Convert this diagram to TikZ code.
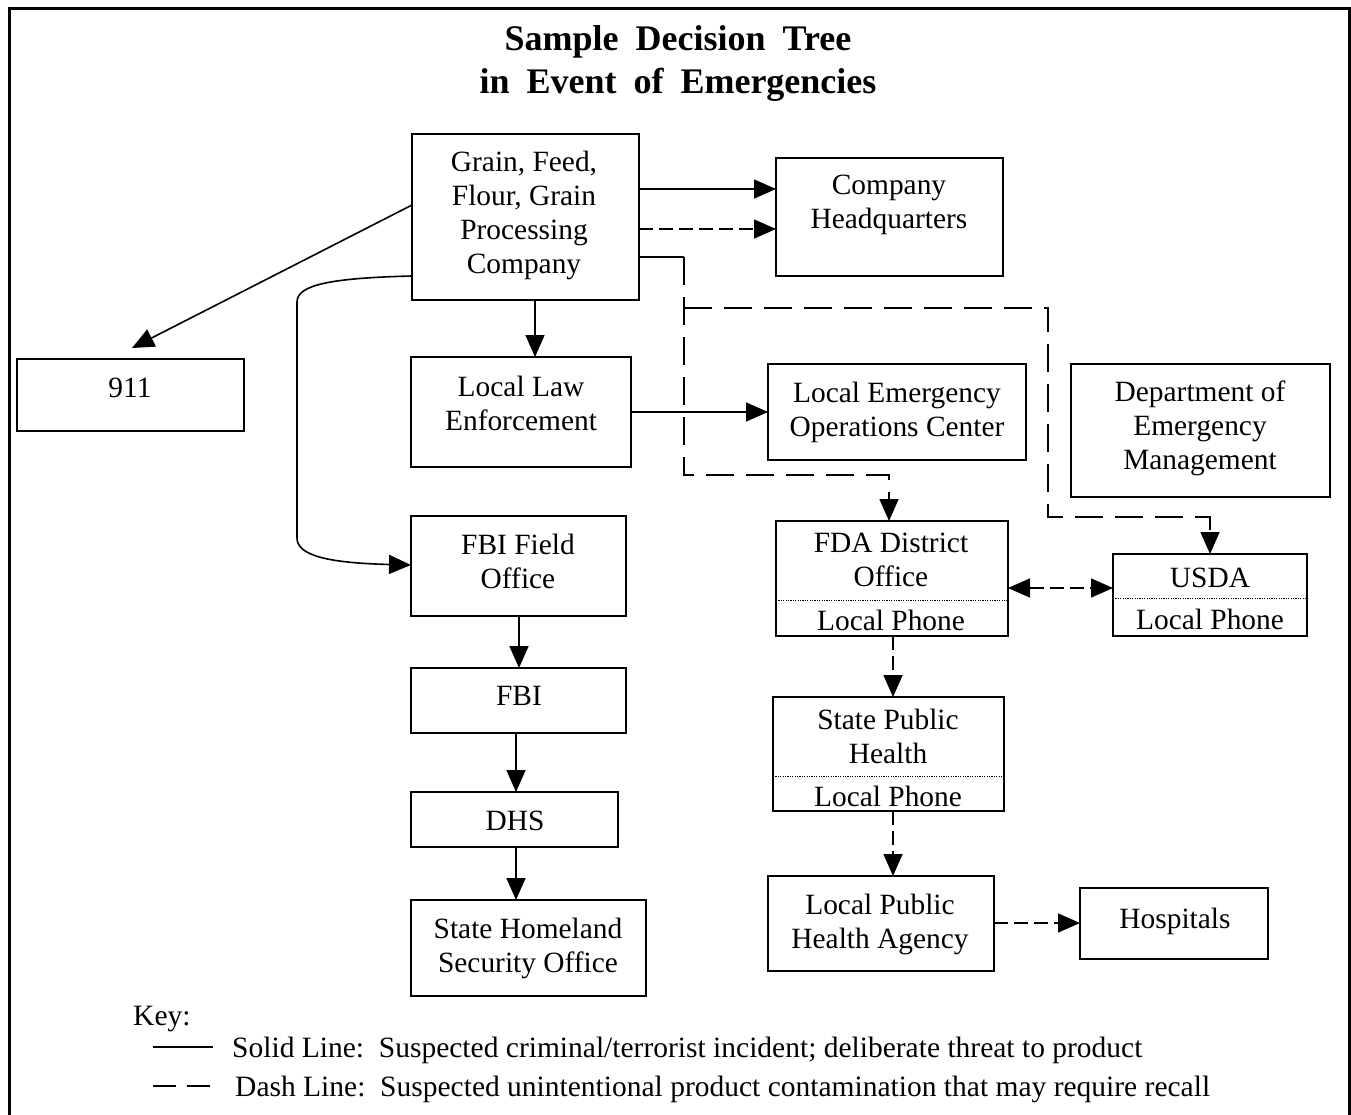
\documentclass[tikz,border=0pt]{standalone}
\usepackage{fontspec}
\setmainfont{Liberation Serif}
\usetikzlibrary{arrows.meta}
\newlength{\ttlspace}
\setlength{\ttlspace}{17pt}
\begin{document}
\begin{tikzpicture}[x=1pt,y=-1pt,
  box/.style={draw,line width=1.6pt,inner sep=0pt,outer sep=0pt,anchor=north west},
  txt/.style={font=\fontsize{29.4}{34}\selectfont,align=center,inner sep=0pt,
    execute at begin node=\strut,execute at end node=\strut},
  conn/.style={line width=1.6pt,-{Triangle[length=22pt,width=19pt]}},
  plain/.style={line width=1.6pt},
  dsh/.style={dash pattern=on 14pt off 6pt},
  bigdsh/.style={dash pattern=on 28pt off 12pt},
  sep/.style={line width=0.8pt,dash pattern=on 1.2pt off 1.2pt},
  ttl/.style={font=\fontsize{36}{43}\selectfont\bfseries,inner sep=0pt,anchor=base},
  keytxt/.style={font=\fontsize{29.5}{34}\selectfont,inner sep=0pt,anchor=base west}
]
\useasboundingbox (0,0) rectangle (1351,1114);
% frame
\draw[line width=3pt] (9.5,1130) -- (9.5,8) -- (1349.5,8) -- (1349.5,1130);

% title
\node[ttl] (t1) at (678,50) {Sample\hspace{\ttlspace}Decision\hspace{\ttlspace}Tree};
\node[ttl] (t2) at (678,93) {in\hspace{\ttlspace}Event\hspace{\ttlspace}of\hspace{\ttlspace}Emergencies};

% boxes
\node[box,minimum width=227pt,minimum height=166pt] (grain) at (412,134) {};
\node[box,minimum width=227pt,minimum height=118pt] (hq) at (776,158) {};
\node[box,minimum width=227pt,minimum height=72pt] (n911) at (17,359) {};
\node[box,minimum width=220pt,minimum height=110pt] (lle) at (411,357) {};
\node[box,minimum width=258pt,minimum height=96pt] (eoc) at (768,364) {};
\node[box,minimum width=259pt,minimum height=133pt] (dem) at (1071,364) {};
\node[box,minimum width=215pt,minimum height=100pt] (fbif) at (411,516) {};
\node[box,minimum width=232pt,minimum height=115pt] (fda) at (776,521) {};
\node[box,minimum width=194pt,minimum height=82pt] (usda) at (1113,554) {};
\node[box,minimum width=215pt,minimum height=65pt] (fbi) at (411,668) {};
\node[box,minimum width=231pt,minimum height=114pt] (sph) at (773,697) {};
\node[box,minimum width=207pt,minimum height=55pt] (dhs) at (411,792) {};
\node[box,minimum width=235pt,minimum height=96pt] (shs) at (411,900) {};
\node[box,minimum width=226pt,minimum height=95pt] (lph) at (768,876) {};
\node[box,minimum width=188pt,minimum height=71pt] (hosp) at (1080,888) {};

% separators
\draw[sep] (fda.west|-0,600) -- (fda.east|-0,600);
\draw[sep] (usda.west|-0,598) -- (usda.east|-0,598);
\draw[sep] (sph.west|-0,776) -- (sph.east|-0,776);

% texts
\node[txt] (tgrain) at (524,217) {Grain, Feed,\\Flour, Grain\\Processing\\Company};
\node[txt] (thq) at (889,207) {Company\\Headquarters};
\node[txt] (t911) at (130,391) {911};
\node[txt] (tlle) at (521,408) {Local Law\\Enforcement};
\node[txt] (teoc) at (897,414) {Local Emergency\\Operations Center};
\node[txt] (tdem) at (1200,430) {Department of\\Emergency\\Management};
\node[txt] (tfbif) at (518,566) {FBI Field\\Office};
\node[txt] (tfda) at (891,565) {FDA District\\Office};
\node[txt] (tfdap) at (891,624) {Local Phone};
\node[txt] (tusda) at (1210,581) {USDA};
\node[txt] (tusdap) at (1210,623) {Local Phone};
\node[txt] (tfbi) at (519,699) {FBI};
\node[txt] (tsph) at (888,741) {State Public\\Health};
\node[txt] (tsphp) at (888,800) {Local Phone};
\node[txt] (tdhs) at (515,824) {DHS};
\node[txt] (tshs) at (528,950) {State Homeland\\Security Office};
\node[txt] (tlph) at (880,926) {Local Public\\Health Agency};
\node[txt] (thosp) at (1175,922) {Hospitals};

% connectors
\coordinate (a911) at (132,348);
\draw[conn] (grain.west|-0,205) -- (a911);
\draw[conn] (grain.east|-0,189) -- (hq.west|-0,189);
\draw[conn,dsh] (grain.east|-0,229) -- (hq.west|-0,229);
\draw[plain] (grain.east|-0,257) -- (684,257);
\draw[conn,bigdsh] (684,257) -- (684,475) -- (889,475) -- (fda.north-|889,0);
\draw[conn,bigdsh] (684,308) -- (1048,308) -- (1048,517) -- (1210,517) -- (usda.north-|1210,0);
\draw[conn] (grain.south-|535,0) -- (lle.north-|535,0);
\draw[conn] (lle.east|-0,412) -- (eoc.west|-0,412);
\draw[conn] (grain.west|-0,276) .. controls (330,278) and (297,285) .. (297,302)
  -- (297,538) .. controls (297,556) and (330,563) .. (fbif.west|-0,565);
\draw[conn] (fbif.south-|519,0) -- (fbi.north-|519,0);
\draw[conn] (fbi.south-|516,0) -- (dhs.north-|516,0);
\draw[conn] (dhs.south-|516,0) -- (shs.north-|516,0);
\draw[line width=1.6pt,dsh,{Triangle[length=22pt,width=19pt]}-{Triangle[length=22pt,width=19pt]}] (fda.east|-0,588) -- (usda.west|-0,588);
\draw[conn,dsh] (fda.south-|893,0) -- (sph.north-|893,0);
\draw[conn,dsh] (sph.south-|893,0) -- (lph.north-|893,0);
\draw[conn,dsh] (lph.east|-0,923) -- (hosp.west|-0,923);

% key
\node[keytxt] (key) at (133,1025) {Key:};
\coordinate (ks1) at (153,1047);
\coordinate (ks2) at (213,1047);
\draw[line width=2pt] (ks1) -- (ks2);
\node[keytxt] (kt1) at (232,1057) {Solid Line:\ \ Suspected criminal/terrorist incident; deliberate threat to product};
\coordinate (kd1) at (153,1086);
\coordinate (kd2) at (213,1086);
\draw[line width=2pt,dash pattern=on 23pt off 11pt] (kd1) -- (kd2);
\node[keytxt] (kt2) at (235,1096) {Dash Line:\ \ Suspected unintentional product contamination that may require recall};
\end{tikzpicture}
\end{document}
